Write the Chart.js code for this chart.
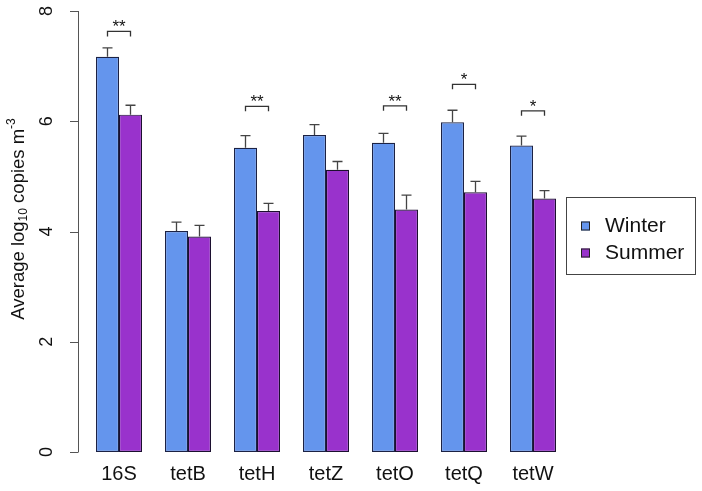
<!DOCTYPE html>
<html><head><meta charset="utf-8">
<script src="https://cdn.jsdelivr.net/npm/chart.js@4.4.1/dist/chart.umd.min.js"></script>
<style>html,body{margin:0;padding:0;background:#fff}#wrap{width:702px;height:491px}</style>
</head><body><div id="wrap"><canvas id="c" width="702" height="491"></canvas></div>
<script>
const categories = ['16S','tetB','tetH','tetZ','tetO','tetQ','tetW'];
const winterMean = [7.17, 4.01, 5.52, 5.75, 5.61, 5.98, 5.56];
const winterErr  = [0.16, 0.16, 0.22, 0.19, 0.17, 0.22, 0.17];
const summerMean = [6.12, 3.91, 4.37, 5.12, 4.40, 4.71, 4.60];
const summerErr  = [0.17, 0.20, 0.14, 0.15, 0.26, 0.20, 0.14];
const sigLabels  = ['**', '', '**', '', '**', '*', '*'];
const sigLevel   = [7.63, null, 6.27, null, 6.28, 6.67, 6.19];
const yTicks = [0, 2, 4, 6, 8];
const errors = [winterErr, summerErr];

const FONT = 'Liberation Sans, Arial, sans-serif';

const drawPlugin = {
  id: 'extras',
  afterDatasetsDraw(chart) {
    const ctx = chart.ctx, y = chart.scales.y;
    ctx.save();
    // error bars
    ctx.strokeStyle = '#444'; ctx.lineWidth = 1.3;
    chart.data.datasets.forEach((ds, di) => {
      const meta = chart.getDatasetMeta(di);
      meta.data.forEach((bar, i) => {
        const top = y.getPixelForValue(ds.data[i] + errors[di][i]);
        const base = y.getPixelForValue(ds.data[i]);
        ctx.beginPath();
        ctx.moveTo(bar.x, base); ctx.lineTo(bar.x, top);
        ctx.moveTo(bar.x - 5, top); ctx.lineTo(bar.x + 5, top);
        ctx.stroke();
      });
    });
    // significance brackets
    const m0 = chart.getDatasetMeta(0), m1 = chart.getDatasetMeta(1);
    ctx.strokeStyle = '#333'; ctx.lineWidth = 1.3;
    ctx.fillStyle = '#111'; ctx.font = '17px ' + FONT;
    ctx.textAlign = 'center'; ctx.textBaseline = 'alphabetic';
    sigLabels.forEach((lab, i) => {
      if (!lab) return;
      const x0 = m0.data[i].x, x1 = m1.data[i].x;
      const yy = y.getPixelForValue(sigLevel[i]);
      ctx.beginPath();
      ctx.moveTo(x0, yy + 5); ctx.lineTo(x0, yy); ctx.lineTo(x1, yy); ctx.lineTo(x1, yy + 5);
      ctx.stroke();
      ctx.fillText(lab, (x0 + x1) / 2, yy + 1);
    });
    // y axis
    const ax = 78;
    ctx.strokeStyle = '#555'; ctx.lineWidth = 1;
    ctx.beginPath();
    ctx.moveTo(ax + 0.5, y.getPixelForValue(yTicks[0]));
    ctx.lineTo(ax + 0.5, y.getPixelForValue(yTicks[yTicks.length - 1]));
    yTicks.forEach(t => {
      const py = Math.round(y.getPixelForValue(t)) + 0.5;
      ctx.moveTo(ax - 8, py); ctx.lineTo(ax + 0.5, py);
    });
    ctx.stroke();
    ctx.fillStyle = '#111'; ctx.font = '18px ' + FONT;
    ctx.textAlign = 'center'; ctx.textBaseline = 'middle';
    yTicks.forEach(t => {
      ctx.save();
      ctx.translate(47, y.getPixelForValue(t));
      ctx.rotate(-Math.PI / 2);
      ctx.fillText(String(t), 0, 0);
      ctx.restore();
    });
    // y axis title with sub/superscript
    ctx.save();
    ctx.translate(19, 219);
    ctx.rotate(-Math.PI / 2);
    const parts = [['Average log', 18.5, 0], ['10', 12, 5], [' copies m', 18.5, 0], ['-3', 12, -7]];
    let total = 0;
    parts.forEach(p => { ctx.font = p[1] + 'px ' + FONT; total += ctx.measureText(p[0]).width; });
    let x = -total / 2;
    ctx.textAlign = 'left';
    parts.forEach(p => {
      ctx.font = p[1] + 'px ' + FONT;
      ctx.fillText(p[0], x, p[2]);
      x += ctx.measureText(p[0]).width;
    });
    ctx.restore();
    // legend
    const lx = 566.5, ly = 197.5, lw = 129, lh = 77;
    ctx.strokeStyle = '#444'; ctx.lineWidth = 1;
    ctx.strokeRect(lx, ly, lw, lh);
    ctx.font = '21px ' + FONT; ctx.textAlign = 'left'; ctx.textBaseline = 'middle';
    chart.data.datasets.forEach((ds, di) => {
      const cy = 226 + di * 27;
      ctx.fillStyle = ds.backgroundColor;
      ctx.fillRect(581, cy - 4.5, 9, 9);
      ctx.strokeStyle = '#222';
      ctx.strokeRect(581.5, cy - 4, 8, 8);
      ctx.fillStyle = '#111';
      ctx.fillText(ds.label, 605, cy);
    });
    ctx.restore();
  }
};

new Chart(document.getElementById('c'), {
  type: 'bar',
  data: {
    labels: categories,
    datasets: [
      { label: 'Winter', data: winterMean, backgroundColor: '#6495ED', borderColor: '#1c2244', borderWidth: 1.2, borderSkipped: false,
        categoryPercentage: 46 / 69, barPercentage: 1 },
      { label: 'Summer', data: summerMean, backgroundColor: '#9932CC', borderColor: '#1c1030', borderWidth: 1.2, borderSkipped: false,
        categoryPercentage: 46 / 69, barPercentage: 1 }
    ]
  },
  options: {
    responsive: false,
    animation: false,
    layout: { padding: { left: 84.5, right: 134.5, top: 11, bottom: -5 } },
    plugins: { legend: { display: false }, tooltip: { enabled: false } },
    scales: {
      x: {
        grid: { display: false, drawTicks: false },
        border: { display: false },
        ticks: { color: '#111', font: { family: FONT, size: 20 }, padding: 10 }
      },
      y: { display: false, min: 0, max: 8 }
    }
  },
  plugins: [drawPlugin]
});
</script></body></html>
